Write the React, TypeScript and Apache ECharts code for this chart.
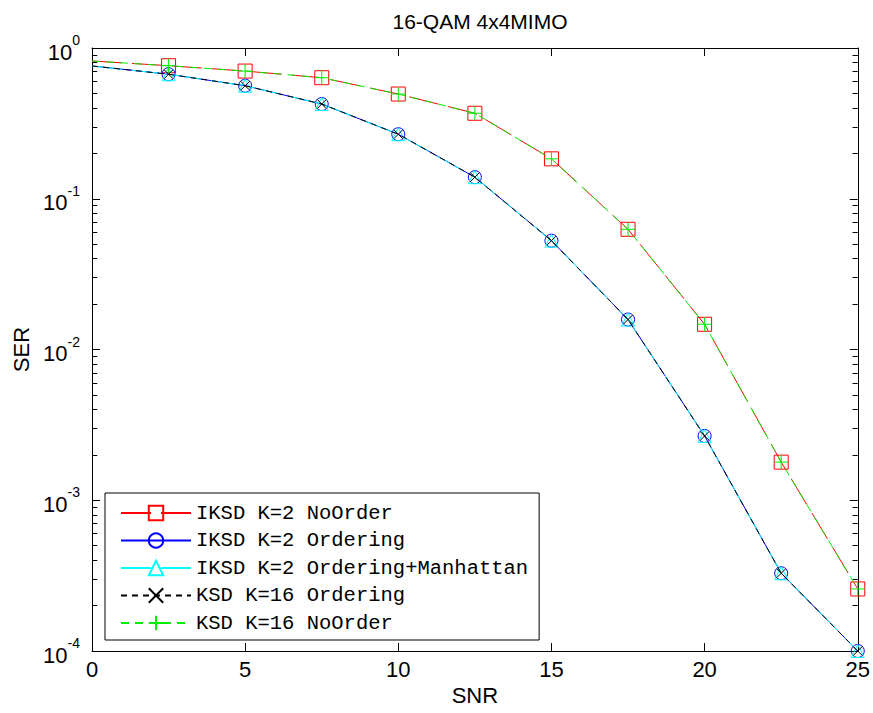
import React, { useEffect, useRef } from 'react';
import * as echarts from 'echarts';

const snr = [0, 2.5, 5, 7.5, 10, 12.5, 15, 17.5, 20, 22.5, 25];
const iksdNoOrder = [0.82, 0.763, 0.703, 0.635, 0.495, 0.369, 0.184, 0.0627, 0.0147, 0.00179, 0.000258];
const iksdOrdering = [0.76, 0.67, 0.562, 0.425, 0.268, 0.139, 0.0527, 0.0158, 0.00267, 0.000328, 0.0001];
const iksdManhattan = [0.76, 0.67, 0.562, 0.425, 0.268, 0.139, 0.0527, 0.0158, 0.00267, 0.000328, 0.0001];
const ksdOrdering = [0.76, 0.67, 0.562, 0.425, 0.268, 0.139, 0.0527, 0.0158, 0.00267, 0.000328, 0.0001];
const ksdNoOrder = [0.82, 0.763, 0.703, 0.635, 0.495, 0.369, 0.184, 0.0627, 0.0147, 0.00179, 0.000258];
const seriesNames = [
  'IKSD K=2 NoOrder',
  'IKSD K=2 Ordering',
  'IKSD K=2 Ordering+Manhattan',
  'KSD K=16 Ordering',
  'KSD K=16 NoOrder',
];
const minorTickValues: number[] = [];
for (let d = -4; d <= -1; d++) {
  for (let k = 2; k <= 9; k++) minorTickValues.push(k * Math.pow(10, d));
}
const X_MIN = 0;
const X_MAX = 25;
const MINOR_LEN = 0.17; // minor tick length in SNR units (about 5px)

const SANS = 'Liberation Sans, Arial, sans-serif';
const MONO = 'Liberation Mono, monospace';
const CLEAR = 'rgba(0,0,0,0)';

function makeSeries(name: string, values: number[], color: string, symbol: string, size: number, dash: any, z: number) {
  return {
    name,
    type: 'line',
    z,
    xAxisIndex: 0,
    yAxisIndex: 0,
    data: values.map((v, i) => (i === 0 ? { value: [snr[i], v], symbol: 'none' } : { value: [snr[i], v] })),
    symbol,
    symbolSize: size,
    symbolKeepAspect: true,
    showAllSymbol: true,
    clip: false,
    lineStyle: { color, width: 1, type: dash },
    itemStyle: { color: CLEAR, borderColor: color, borderWidth: 1 },
    emphasis: { disabled: true },
  };
}

const minorTickLines: any[] = [];
minorTickValues.forEach((v) => {
  minorTickLines.push([{ coord: [X_MIN, v] }, { coord: [X_MIN + MINOR_LEN, v] }]);
  minorTickLines.push([{ coord: [X_MAX - MINOR_LEN, v] }, { coord: [X_MAX, v] }]);
});

export default function App() {
  const ref = useRef<HTMLDivElement>(null);
  useEffect(() => {
    document.body.style.margin = '0';
    const chart = echarts.init(ref.current!, undefined, { renderer: 'svg' });
    const supLabel = (v: number) => {
      const e = Math.round(Math.log10(v));
      return '{b|10}{s|' + e + '}';
    };
    const rich = {
      b: { fontSize: 22, lineHeight: 30, verticalAlign: 'bottom', fontFamily: SANS, color: '#000' },
      s: { fontSize: 14, lineHeight: 14, verticalAlign: 'top', fontFamily: SANS, color: '#000' },
    };
    const series: any[] = [
      makeSeries(seriesNames[0], iksdNoOrder, '#ff0000', 'rect', 14, [30, 10], 2),
      makeSeries(seriesNames[1], iksdOrdering, '#0000ff', 'circle', 13, 'solid', 3),
      makeSeries(seriesNames[2], iksdManhattan, '#00ffff', 'triangle', 13, [30, 10], 4),
      makeSeries(seriesNames[3], ksdOrdering, '#000000', 'path://M0,0L10,10M10,0L0,10', 9, [6, 5], 5),
      makeSeries(seriesNames[4], ksdNoOrder, '#00ee00', 'path://M5,0L5,10M0,5L10,5', 14, [8, 6], 6),
    ];
    series[0].markLine = {
      silent: true,
      symbol: ['none', 'none'],
      animation: false,
      label: { show: false },
      lineStyle: { color: '#000', width: 1, type: 'solid' },
      emphasis: { disabled: true },
      data: minorTickLines,
    };
    const option: any = {
      animation: false,
      backgroundColor: '#fff',
      title: {
        text: '16-QAM 4x4MIMO',
        left: 475,
        top: 6,
        textAlign: 'center',
        textStyle: { fontFamily: SANS, fontSize: 21, fontWeight: 'normal', color: '#000' },
      },
      grid: { left: 92, right: 15, top: 48, bottom: 62, containLabel: false },
      legend: {
        data: seriesNames,
        orient: 'vertical',
        left: 105,
        top: 493,
        itemWidth: 70,
        itemHeight: 18,
        itemGap: 6.5,
        padding: [9.5, 11, 6.5, 15],
        borderColor: '#000',
        borderWidth: 1,
        backgroundColor: '#fff',
        textStyle: { fontFamily: MONO, fontSize: 20.5, lineHeight: 18, color: '#000' },
        selectedMode: false,
      },
      xAxis: [
        {
          type: 'value',
          min: X_MIN,
          max: X_MAX,
          interval: 5,
          name: 'SNR',
          nameLocation: 'middle',
          nameGap: 29,
          nameTextStyle: { fontFamily: SANS, fontSize: 22, color: '#000' },
          axisLine: { show: true, onZero: false, lineStyle: { color: '#000', width: 1 } },
          axisTick: { show: true, inside: true, length: 8, lineStyle: { color: '#000' } },
          axisLabel: { fontFamily: SANS, fontSize: 22, color: '#000', margin: 7 },
          splitLine: { show: false },
        },
        {
          type: 'value',
          position: 'top',
          min: X_MIN,
          max: X_MAX,
          interval: 5,
          axisLine: { show: true, onZero: false, lineStyle: { color: '#000', width: 1 } },
          axisTick: { show: true, inside: true, length: 8, lineStyle: { color: '#000' } },
          axisLabel: { show: false },
          splitLine: { show: false },
        },
      ],
      yAxis: [
        {
          type: 'log',
          logBase: 10,
          min: 0.0001,
          max: 1,
          name: 'SER',
          nameLocation: 'middle',
          nameGap: 60,
          nameRotate: 90,
          nameTextStyle: { fontFamily: SANS, fontSize: 22, color: '#000' },
          axisLine: { show: true, onZero: false, lineStyle: { color: '#000', width: 1 } },
          axisTick: { show: true, inside: true, length: 8, lineStyle: { color: '#000' } },
          axisLabel: { formatter: supLabel, rich, margin: 12 },
          splitLine: { show: false },
        },
        {
          type: 'log',
          logBase: 10,
          min: 0.0001,
          max: 1,
          position: 'right',
          axisLine: { show: true, onZero: false, lineStyle: { color: '#000', width: 1 } },
          axisTick: { show: true, inside: true, length: 8, lineStyle: { color: '#000' } },
          axisLabel: { show: false },
          splitLine: { show: false },
        },
      ],
      series,
    };
    chart.setOption(option);
    return () => chart.dispose();
  }, []);
  return <div ref={ref} style={{ width: 873, height: 713 }} />;
}
